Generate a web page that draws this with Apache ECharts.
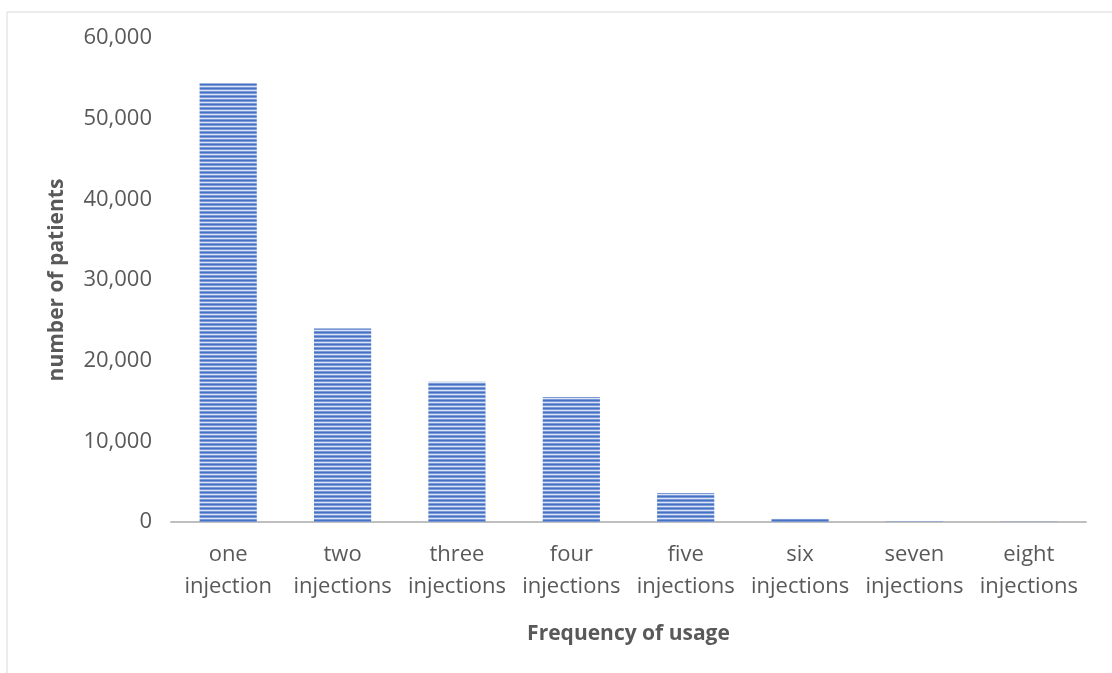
<!DOCTYPE html>
<html><head><meta charset="utf-8">
<script src="https://cdn.jsdelivr.net/npm/echarts@6/dist/echarts.min.js"></script>
<style>html,body{margin:0;padding:0;background:#fff}#c{width:1112px;height:673px}</style>
</head><body><div id="c"></div>
<script>
const categories = ['one\ninjection','two\ninjections','three\ninjections','four\ninjections','five\ninjections','six\ninjections','seven\ninjections','eight\ninjections'];
const patients = [54400, 24000, 17400, 15500, 3600, 400, 60, 20];
const yTitle = 'number of patients';
const xTitle = 'Frequency of usage';

const pc = document.createElement('canvas');
pc.width = 4; pc.height = 4;
const g = pc.getContext('2d');
const rows = ['#4472C4','#7a98d6','#dce5f5','#7a98d6'];
rows.forEach((c,i)=>{g.fillStyle=c;g.fillRect(0,i,4,1);});

const chart = echarts.init(document.getElementById('c'), null, {renderer:'canvas'});
const font = 'Open Sans';
chart.setOption({
  animation:false,
  textStyle:{fontFamily:font},
  graphic:[
    {type:'line',shape:{x1:7,y1:12,x2:1112,y2:12},style:{stroke:'#d9d9d9',lineWidth:1}},
    {type:'line',shape:{x1:7,y1:12,x2:7,y2:673},style:{stroke:'#d9d9d9',lineWidth:1}}
  ],
  grid:{left:171,right:26,top:38,bottom:151,containLabel:false},
  xAxis:{type:'category',data:categories,
    axisLine:{lineStyle:{color:'#bfbfbf',width:2}},
    axisTick:{show:false},
    axisLabel:{color:'#595959',fontSize:22,lineHeight:32,margin:17,interval:0,fontFamily:font},
    name:xTitle,nameLocation:'middle',nameGap:102,
    nameTextStyle:{color:'#595959',fontSize:21,fontWeight:'bold',fontFamily:font}
  },
  yAxis:{type:'value',min:0,max:60000,interval:10000,
    axisLine:{show:false},axisTick:{show:false},splitLine:{show:false},
    axisLabel:{color:'#595959',fontSize:22,margin:19,fontFamily:font,
      formatter:v=>v.toLocaleString('en-US')},
    name:yTitle,nameLocation:'middle',nameGap:103,nameRotate:90,
    nameTextStyle:{color:'#595959',fontSize:21,fontWeight:'bold',fontFamily:font}
  },
  series:[{type:'bar',data:patients,barWidth:'50%',
    itemStyle:{color:{image:pc,repeat:'repeat'}}}]
});
</script></body></html>
